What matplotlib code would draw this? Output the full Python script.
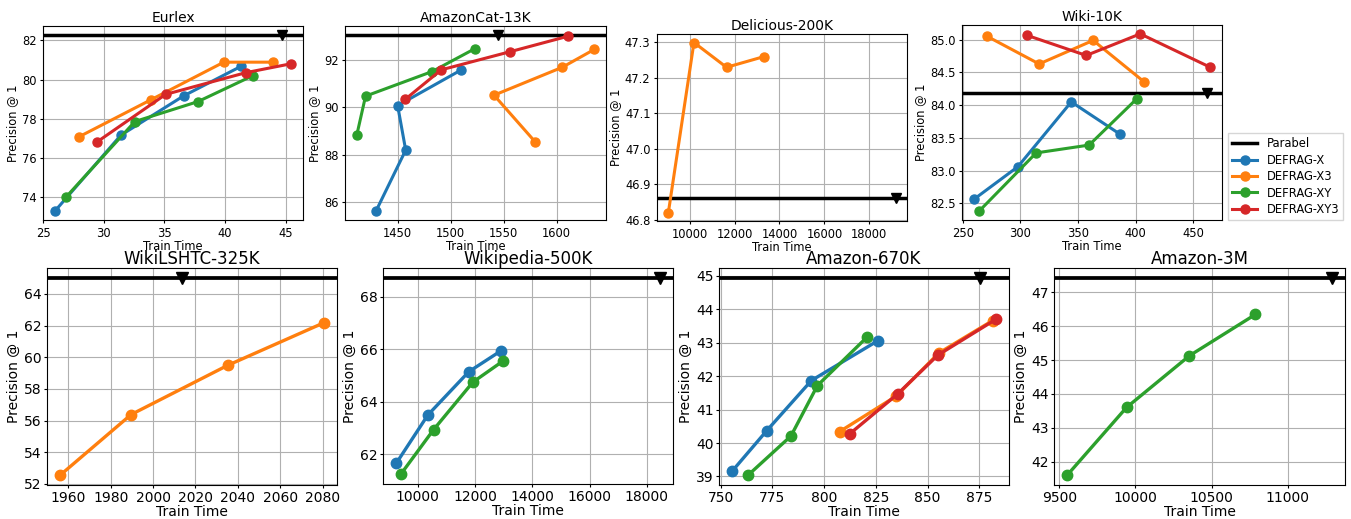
import matplotlib
matplotlib.use("Agg")
import matplotlib.pyplot as plt
from matplotlib.ticker import MultipleLocator

# train time / precision@1, one dict per dataset
methods = ["DEFRAG-X", "DEFRAG-X3", "DEFRAG-XY", "DEFRAG-XY3"]
colors = ["tab:blue", "tab:orange", "tab:green", "tab:red"]

datasets = ["Eurlex", "AmazonCat-13K", "Delicious-200K", "Wiki-10K",
            "WikiLSHTC-325K", "Wikipedia-500K", "Amazon-670K", "Amazon-3M"]
parabel_time = [44.7, 1544.7, 19170, 462, 2013.8, 18454, 875.3, 11289]
parabel_p1 = [82.29, 93.07, 46.86, 84.19, 65.02, 68.72, 44.94, 47.43]

eurlex = {
    "DEFRAG-X": ([25.95, 31.4, 36.6, 41.3], [73.26, 77.15, 79.17, 80.67]),
    "DEFRAG-X3": ([27.98, 33.9, 39.9, 44.0], [77.08, 78.97, 80.89, 80.89]),
    "DEFRAG-XY": ([26.9, 32.56, 37.76, 42.3], [74.0, 77.85, 78.87, 80.2]),
    "DEFRAG-XY3": ([29.4, 35.1, 41.7, 45.46], [76.79, 79.24, 80.35, 80.81]),
}
amazoncat = {
    "DEFRAG-X": ([1429.4, 1457.5, 1449.9, 1510], [85.62, 88.2, 90.08, 91.59]),
    "DEFRAG-X3": ([1579.5, 1540.9, 1605.4, 1635.4], [88.56, 90.52, 91.70, 92.45]),
    "DEFRAG-XY": ([1411.4, 1419.6, 1482.5, 1522.6], [88.85, 90.48, 91.52, 92.48]),
    "DEFRAG-XY3": ([1457.2, 1491, 1555.5, 1610.7], [90.35, 91.59, 92.35, 93.01]),
}
delicious = {
    "DEFRAG-X3": ([9053, 10192, 11642, 13298], [46.82, 47.30, 47.23, 47.26]),
}
wiki10k = {
    "DEFRAG-X": ([259.5, 297.8, 344.1, 386.1], [82.56, 83.06, 84.05, 83.56]),
    "DEFRAG-X3": ([271.3, 316.2, 363.1, 407.1], [85.05, 84.63, 84.99, 84.36]),
    "DEFRAG-XY": ([264.1, 313.6, 359.6, 401.1], [82.38, 83.27, 83.39, 84.10]),
    "DEFRAG-XY3": ([305.3, 357.1, 404.0, 464.7], [85.07, 84.76, 85.09, 84.58]),
}
wikilshtc = {
    "DEFRAG-X3": ([1956.1, 1989.6, 2035.2, 2080.6], [52.55, 56.38, 59.49, 62.18]),
}
wikipedia = {
    "DEFRAG-X": ([9243, 10349, 11782, 12900], [61.66, 63.50, 65.15, 65.94]),
    "DEFRAG-XY": ([9406, 10547, 11921, 12969], [61.25, 62.94, 64.75, 65.55]),
}
amazon670k = {
    "DEFRAG-X": ([755.6, 772.3, 793.9, 826.0], [39.16, 40.37, 41.87, 43.06]),
    "DEFRAG-X3": ([807.5, 834.8, 855.4, 881.4], [40.34, 41.40, 42.69, 43.66]),
    "DEFRAG-XY": ([763.3, 784.0, 796.8, 820.8], [39.04, 40.21, 41.72, 43.17]),
    "DEFRAG-XY3": ([812.5, 835.6, 855.0, 883.0], [40.28, 41.47, 42.63, 43.70]),
}
amazon3m = {
    "DEFRAG-XY": ([9552.5, 9941.7, 10355, 10788], [41.60, 43.60, 45.13, 46.35]),
}
results = [eurlex, amazoncat, delicious, wiki10k,
           wikilshtc, wikipedia, amazon670k, amazon3m]

W, H = 1351, 519
# panel boxes in pixels: left, right, top, bottom
boxes = [(43, 303, 26, 220), (345, 606, 26, 220), (657, 907, 34, 221), (962, 1222, 25, 220),
         (47, 337, 268, 485), (383, 673, 268, 484), (719, 1009, 268, 485), (1054, 1345, 268, 485)]

fig = plt.figure(figsize=(W / 100, H / 100), dpi=100)

for i, name in enumerate(datasets):
    l, r, t, b = boxes[i]
    ax = fig.add_axes([l / W, 1 - b / H, (r - l) / W, (b - t) / H])
    top = i < 4
    fs_tick = 8.3 if top else 10
    fs_title = 10 if top else 12
    lw = 2.2 if top else 2.4
    ms = 6.5 if top else 7.5

    ax.axhline(parabel_p1[i], color="black", lw=lw + 0.3, label="Parabel")
    ax.plot(parabel_time[i], parabel_p1[i], "v", color="black", ms=ms + 1)
    for m, c in zip(methods, colors):
        if m in results[i]:
            xs, ys = results[i][m]
            ax.plot(xs, ys, "-o", color=c, lw=lw, ms=ms, label=m)
        else:
            ax.plot([], [], "-o", color=c, lw=lw, ms=ms, label=m)

    ax.grid(True)
    ax.set_title(name, fontsize=fs_title, pad=3)
    ax.set_xlabel("Train Time", fontsize=fs_tick, labelpad=0)
    ax.set_ylabel("Precision @ 1", fontsize=fs_tick, labelpad=2)
    if top:
        ax.tick_params(labelsize=fs_tick, length=2.5, pad=2.2)
    else:
        ax.tick_params(labelsize=fs_tick, length=2.5, pad=1.5)
    if name == "WikiLSHTC-325K":
        ax.xaxis.set_major_locator(MultipleLocator(20))

    if i == 3:
        ax.legend(loc="lower left", bbox_to_anchor=(1.023, 0), borderaxespad=0,
                  fontsize=8.3, fancybox=False, handlelength=2.2,
                  labelspacing=0.3, borderpad=0.35)

fig.savefig("out.png", dpi=100)
